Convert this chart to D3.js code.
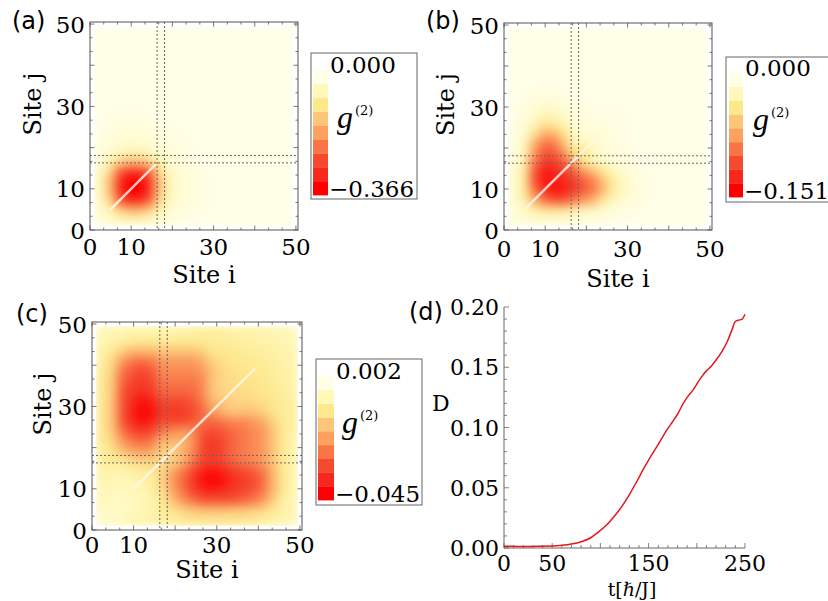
<!DOCTYPE html>
<html>
<head>
<meta charset="utf-8">
<script src="https://cdn.jsdelivr.net/npm/d3@7"></script>
<style>
  body { margin: 0; background: #fff; }
  svg { display: block; }
</style>
</head>
<body>
<div id="chart"></div>
<script>
// ---------------- data ----------------
const siteTicks = [0, 10, 30, 50];
const cutLines = [16.3, 18.1];        // dashed marker lines, site index
const imgSpan = [1, 49.5];             // sites covered by the density image

// g2 depth on a 20x20 grid (cells of ~2.5 sites), 0 = zero, 10 = colorbar minimum.
// Each inner array is one column i; it lists rows j starting at the diagonal and going up.
// The lower triangle is the mirror image (g2(i,j) = g2(j,i)).
const levelsA = [
  [0.3, 0.5, 0.8, 1, 1, 0.8, 0.5, 0.3, 0.2, 0.1, 0.1],
  [1.5, 3, 4, 4, 3, 1.5, 0.6, 0.3, 0.2, 0.1],
  [7, 8.5, 8.5, 7, 3, 1, 0.5, 0.3, 0.2, 0.1],
  [10, 10, 8.5, 4, 1.3, 0.6, 0.4, 0.2, 0.1],
  [10, 8.5, 4, 1.3, 0.6, 0.4, 0.2, 0.1],
  [7, 3, 1, 0.5, 0.3, 0.1],
  [1.5, 0.6, 0.3, 0.2, 0.1],
  [0.4, 0.2, 0.1],
  [0.1, 0.1],
  [], [], [], [], [], [], [], [], [], [], []
];
const levelsB = [
  [0.3, 0.4, 0.5, 0.5, 0.5, 0.5, 0.4, 0.3, 0.2, 0.2, 0.1, 0.1],
  [0.8, 1.5, 2, 2, 2, 1.5, 1, 0.8, 0.5, 0.3, 0.2, 0.1],
  [4, 6, 7, 7, 6, 5, 4, 2, 1, 0.6, 0.3, 0.1],
  [8, 9.5, 9, 8, 7, 6, 4, 2, 1, 0.5, 0.2],
  [9, 9, 8, 7, 6, 4, 2, 1, 0.5, 0.2],
  [8, 7, 5.5, 4, 2.5, 1.2, 0.6, 0.3, 0.1],
  [5, 2.5, 1.5, 1, 0.5, 0.3, 0.1],
  [2.5, 1, 0.5, 0.3, 0.2, 0.1],
  [1, 0.4, 0.2, 0.1],
  [0.4, 0.2, 0.1],
  [0.2, 0.1],
  [0.1],
  [], [], [], [], [], [], [], []
];
const levelsC = [
  [0.3, 0.5, 0.7, 1, 1, 1.2, 1.5, 1.5, 1.8, 2, 2, 2, 2, 2, 2, 1.8, 1.5, 1.3, 1, 0.8],
  [0.5, 0.5, 0.7, 1, 1.2, 1.8, 2.2, 2.8, 3.2, 3.5, 3.5, 3.5, 3.3, 3.2, 3, 2.6, 2, 1.4, 1],
  [0.7, 0.5, 0.8, 1.2, 2, 3.5, 5, 6, 7, 7, 7, 7, 6.5, 6, 5, 3, 1.5, 1],
  [1, 0.8, 1.5, 2.5, 4.5, 6, 7.5, 8.5, 9, 8.5, 8, 7.5, 7, 6, 4, 2, 1.2],
  [1.5, 1.5, 3, 5, 6.5, 8, 9.5, 10, 9.5, 8.5, 8, 7.5, 6.5, 4, 2, 1.2],
  [2, 3, 4.5, 6, 7.5, 9, 9.5, 9, 8, 7.5, 7, 6, 4, 2, 1.2],
  [2.5, 3, 4, 6, 7.5, 8, 7.5, 6.5, 6, 5.5, 5, 3.5, 2, 1.2],
  [3, 4, 5.5, 7.5, 8, 7.5, 6.5, 6, 5.5, 5, 3.5, 2, 1.2],
  [4, 5, 7.5, 8, 7.5, 6.5, 6, 5.5, 5, 3.5, 2, 1.2],
  [5.5, 7, 7.5, 7, 6.5, 6, 5.5, 5, 3.5, 2, 1.5],
  [6, 6.5, 6, 5.5, 5.5, 5, 4.5, 3, 2, 1.5],
  [5, 4, 3.5, 3.5, 3.5, 3, 2.2, 1.8, 1.5],
  [3.5, 2.8, 2.8, 2.8, 2.5, 2.2, 1.8, 1.5],
  [2.8, 2.5, 2.4, 2.2, 2, 1.7, 1.3],
  [2.5, 2.3, 2.1, 1.8, 1.5, 1.3],
  [2.1, 2, 1.7, 1.4, 1.2],
  [1.8, 1.6, 1.3, 1.1],
  [1.4, 1.2, 1],
  [1, 0.9],
  [0.8]
];
const rangeA = [-0.366, 0.000];
const rangeB = [-0.151, 0.000];
const rangeC = [-0.045, 0.002];
const diagA = [5, 15.8];               // visible part of the i = j line
const diagB = [5.5, 22.3];
const diagC = [10.5, 39];

// panel (d)
const tValues = [0, 25, 50, 60, 70, 80, 90, 96.5, 105, 114, 120, 131, 138, 145, 150, 160, 169, 175, 180,
                 186, 190, 196, 204, 210, 214, 220, 226, 232, 236, 240, 243, 247, 250];
const dValues = [0.0015, 0.0012, 0.0016, 0.0022, 0.0033, 0.0052, 0.0085, 0.0124, 0.018, 0.026, 0.032,
                 0.0456, 0.0556, 0.066, 0.073, 0.086, 0.098, 0.105, 0.111, 0.120, 0.125, 0.131, 0.141,
                 0.147, 0.150, 0.156, 0.163, 0.172, 0.180, 0.188, 0.189, 0.190, 0.194];
const tTicks = [0, 50, 150, 250];
const dTicks = [0, 0.05, 0.10, 0.15, 0.20];

// ---------------- drawing ----------------
const ramp = ["#ff0000", "#f7281e", "#f64a30", "#f97548", "#fca160",
              "#fdc57a", "#fee88e", "#fff8b8", "#ffffe8"];
const serif = "'DejaVu Serif', serif";
const sans = "'DejaVu Sans', sans-serif";
const frameColor = "#555";

const svg = d3.select("#chart").append("svg")
  .attr("width", 828).attr("height", 601)
  .style("font-family", serif);
const defs = svg.append("defs");

function heatImage(levels, range) {
  const n = levels.length;
  const canvas = document.createElement("canvas");
  canvas.width = n; canvas.height = n;
  const ctx = canvas.getContext("2d");
  const color = d3.scaleLinear()
    .domain(d3.range(9).map(i => range[0] + (range[1] - range[0]) * i / 8))
    .range(ramp).clamp(true);
  const col = d3.scaleBand().domain(d3.range(n)).range([0, n]);
  const row = d3.scaleBand().domain(d3.range(n)).range([n, 0]);
  const level = (k, r) => {
    const c = r >= k ? levels[k] : levels[r];
    const v = c[Math.abs(r - k)];
    return v === undefined ? 0 : v;
  };
  for (let r = 0; r < n; r++) {
    for (let k = 0; k < n; k++) {
      ctx.fillStyle = color(level(k, r) / 10 * range[0]);
      ctx.fillRect(col(k), row(r), 1, 1);
    }
  }
  return canvas.toDataURL();
}

function drawHeat(p) {
  const f = p.frame;
  const g = svg.append("g");
  const x = d3.scaleLinear().domain([0, 50.5]).range([f.x, f.x + f.w]);
  const y = d3.scaleLinear().domain([0, 50.5]).range([f.y + f.h, f.y]);

  const ix = x(imgSpan[0]), iy = y(imgSpan[1]);
  const iw = x(imgSpan[1]) - ix, ih = y(imgSpan[0]) - iy;
  defs.append("filter").attr("id", "soft" + p.id)
    .attr("filterUnits", "userSpaceOnUse")
    .attr("x", ix).attr("y", iy).attr("width", iw).attr("height", ih)
    .append("feGaussianBlur").attr("stdDeviation", 3.5).attr("edgeMode", "duplicate");

  g.append("image")
    .attr("x", ix).attr("y", iy).attr("width", iw).attr("height", ih)
    .attr("preserveAspectRatio", "none")
    .attr("filter", `url(#soft${p.id})`)
    .attr("href", heatImage(p.levels, p.range));

  g.append("line")
    .attr("x1", x(p.diag[0])).attr("y1", y(p.diag[0]))
    .attr("x2", x(p.diag[1])).attr("y2", y(p.diag[1]))
    .attr("stroke", "#fff6ee").attr("stroke-width", 2.5)
    .attr("stroke-opacity", 0.8).attr("stroke-linecap", "round");

  g.selectAll(".vcut").data(cutLines).join("line")
    .attr("x1", d => x(d)).attr("x2", d => x(d))
    .attr("y1", f.y).attr("y2", f.y + f.h)
    .attr("stroke", "#666").attr("stroke-width", 1).attr("stroke-dasharray", "2,2");
  g.selectAll(".hcut").data(cutLines).join("line")
    .attr("y1", d => y(d)).attr("y2", d => y(d))
    .attr("x1", f.x).attr("x2", f.x + f.w)
    .attr("stroke", "#666").attr("stroke-width", 1).attr("stroke-dasharray", "2,2");

  g.append("rect")
    .attr("x", f.x).attr("y", f.y).attr("width", f.w).attr("height", f.h)
    .attr("fill", "none").attr("stroke", frameColor).attr("stroke-width", 1);

  const ticks = d3.range(0, 50.6, 10 / 3);
  const len = d => (Math.abs(d / 10 - Math.round(d / 10)) < 1e-6 ? 4.5 : 2.5);
  const tk = g.append("g").attr("stroke", frameColor).attr("stroke-width", 0.8);
  tk.selectAll(".b").data(ticks).join("line")
    .attr("x1", d => x(d)).attr("x2", d => x(d))
    .attr("y1", f.y + f.h).attr("y2", d => f.y + f.h - len(d));
  tk.selectAll(".t").data(ticks).join("line")
    .attr("x1", d => x(d)).attr("x2", d => x(d))
    .attr("y1", f.y).attr("y2", d => f.y + len(d));
  tk.selectAll(".l").data(ticks).join("line")
    .attr("y1", d => y(d)).attr("y2", d => y(d))
    .attr("x1", f.x).attr("x2", d => f.x + len(d));
  tk.selectAll(".r").data(ticks).join("line")
    .attr("y1", d => y(d)).attr("y2", d => y(d))
    .attr("x1", f.x + f.w).attr("x2", d => f.x + f.w - len(d));

  g.selectAll(".xl").data(siteTicks).join("text")
    .attr("x", d => x(d)).attr("y", f.y + f.h + p.tickDy)
    .attr("text-anchor", "middle").attr("font-size", 23).text(d => d);
  g.selectAll(".yl").data(siteTicks).join("text")
    .attr("x", f.x - 5).attr("y", d => y(d) + 8.5)
    .attr("text-anchor", "end").attr("font-size", 23).text(d => d);

  g.append("text")
    .attr("x", f.x + f.w / 2 + 10).attr("y", f.y + f.h + p.titleDy)
    .attr("text-anchor", "middle").attr("font-size", 24).text("Site i");
  g.append("text")
    .attr("transform", `translate(${p.jx},${f.y + f.h / 2 - 22}) rotate(-90)`)
    .attr("text-anchor", "middle").attr("font-size", 24).text("Site j");

  g.append("text")
    .attr("x", p.tag[0]).attr("y", p.tag[1])
    .style("font-family", sans).attr("font-size", 24).text(`(${p.id})`);

  // colour legend
  const L = p.legend;
  const lg = svg.append("g");
  lg.append("rect")
    .attr("x", L.x).attr("y", L.y).attr("width", 106).attr("height", L.h)
    .attr("fill", "#fff").attr("stroke", "#666").attr("stroke-width", 1);
  const band = d3.scaleBand().domain(d3.range(9)).range([L.s1, L.s0]);
  lg.selectAll(".band").data(d3.range(9)).join("rect")
    .attr("x", L.sx).attr("width", L.sw)
    .attr("y", d => band(d)).attr("height", band.bandwidth() + 0.4)
    .attr("fill", d => ramp[d]);
  const fmt = d3.format(".3f");
  lg.append("text").attr("x", L.sx + L.sw + 2).attr("y", L.s0 + 3)
    .attr("font-size", 23).text(fmt(p.range[1]));
  lg.append("text").attr("x", L.sx + L.sw + 1).attr("y", L.s1 + 2)
    .attr("font-size", 23).text(fmt(p.range[0]));
  const gt = lg.append("text").attr("x", L.sx + 24).attr("y", (L.s0 + L.s1) / 2 - 5);
  gt.append("tspan").style("font-family", "'Liberation Serif', serif")
    .style("font-style", "italic").attr("font-size", 32).text("g");
  gt.append("tspan").attr("font-size", 13).attr("dx", 2).attr("dy", -13).text("(2)");
}

const heatPanels = [
  { id: "a", levels: levelsA, range: rangeA, diag: diagA,
    frame: { x: 90, y: 22, w: 208, h: 208 }, tickDy: 25, titleDy: 53, jx: 41, tag: [12, 29],
    legend: { x: 311, y: 53, h: 146, sx: 313, sw: 15, s0: 70, s1: 195 } },
  { id: "b", levels: levelsB, range: rangeB, diag: diagB,
    frame: { x: 504, y: 23, w: 208, h: 207 }, tickDy: 27, titleDy: 57, jx: 454, tag: [426, 29],
    legend: { x: 726, y: 57, h: 145, sx: 729, sw: 14, s0: 73, s1: 197 } },
  { id: "c", levels: levelsC, range: rangeC, diag: diagC,
    frame: { x: 92, y: 322, w: 210, h: 208 }, tickDy: 23, titleDy: 48, jx: 51, tag: [16, 322],
    legend: { x: 316, y: 359, h: 146, sx: 318, sw: 16, s0: 376, s1: 500 } }
];
heatPanels.forEach(drawHeat);

// ---------------- panel (d) ----------------
(function () {
  const g = svg.append("g");
  const x = d3.scaleLinear().domain([0, 250]).range([504, 745]);
  const y = d3.scaleLinear().domain([0, 0.2]).range([548, 307]);
  const axisColor = "#666";

  g.append("line").attr("x1", x(0)).attr("x2", x(250)).attr("y1", y(0)).attr("y2", y(0))
    .attr("stroke", axisColor).attr("stroke-width", 1);
  g.append("line").attr("x1", x(0)).attr("x2", x(0)).attr("y1", y(0)).attr("y2", y(0.2))
    .attr("stroke", axisColor).attr("stroke-width", 1);

  const xt = d3.range(0, 251, 10);
  g.selectAll(".xt").data(xt).join("line")
    .attr("x1", d => x(d)).attr("x2", d => x(d))
    .attr("y1", y(0)).attr("y2", d => y(0) - (d % 50 === 0 ? 5 : 3))
    .attr("stroke", axisColor).attr("stroke-width", 0.8);
  const yt = d3.range(0, 21).map(i => i / 100);
  g.selectAll(".yt").data(yt).join("line")
    .attr("y1", d => y(d)).attr("y2", d => y(d))
    .attr("x1", x(0)).attr("x2", (d, i) => x(0) + (i % 5 === 0 ? 5 : 3))
    .attr("stroke", axisColor).attr("stroke-width", 0.8);

  g.selectAll(".xl").data(tTicks).join("text")
    .attr("x", d => x(d)).attr("y", 571).attr("text-anchor", "middle")
    .attr("font-size", 22).text(d => d);
  g.selectAll(".yl").data(dTicks).join("text")
    .attr("x", x(0) - 5).attr("y", d => y(d) + 8).attr("text-anchor", "end")
    .attr("font-size", 22).text(d => d3.format(".2f")(d));

  g.append("text").attr("x", 432).attr("y", 411).attr("font-size", 22).text("D");
  const tl = g.append("text").attr("x", 632).attr("y", 596)
    .attr("text-anchor", "middle").attr("font-size", 19);
  tl.append("tspan").text("t[");
  tl.append("tspan").style("font-style", "italic").text("\u210F");
  tl.append("tspan").text("/J]");

  g.append("text").attr("x", 409).attr("y", 320)
    .style("font-family", sans).attr("font-size", 24).text("(d)");

  const pts = tValues.map((t, i) => [t, dValues[i]]);
  g.append("path").datum(pts)
    .attr("fill", "none").attr("stroke", "#e8161b").attr("stroke-width", 1.5)
    .attr("d", d3.line().x(d => x(d[0])).y(d => y(d[1])).curve(d3.curveMonotoneX));
})();
</script>
</body>
</html>
